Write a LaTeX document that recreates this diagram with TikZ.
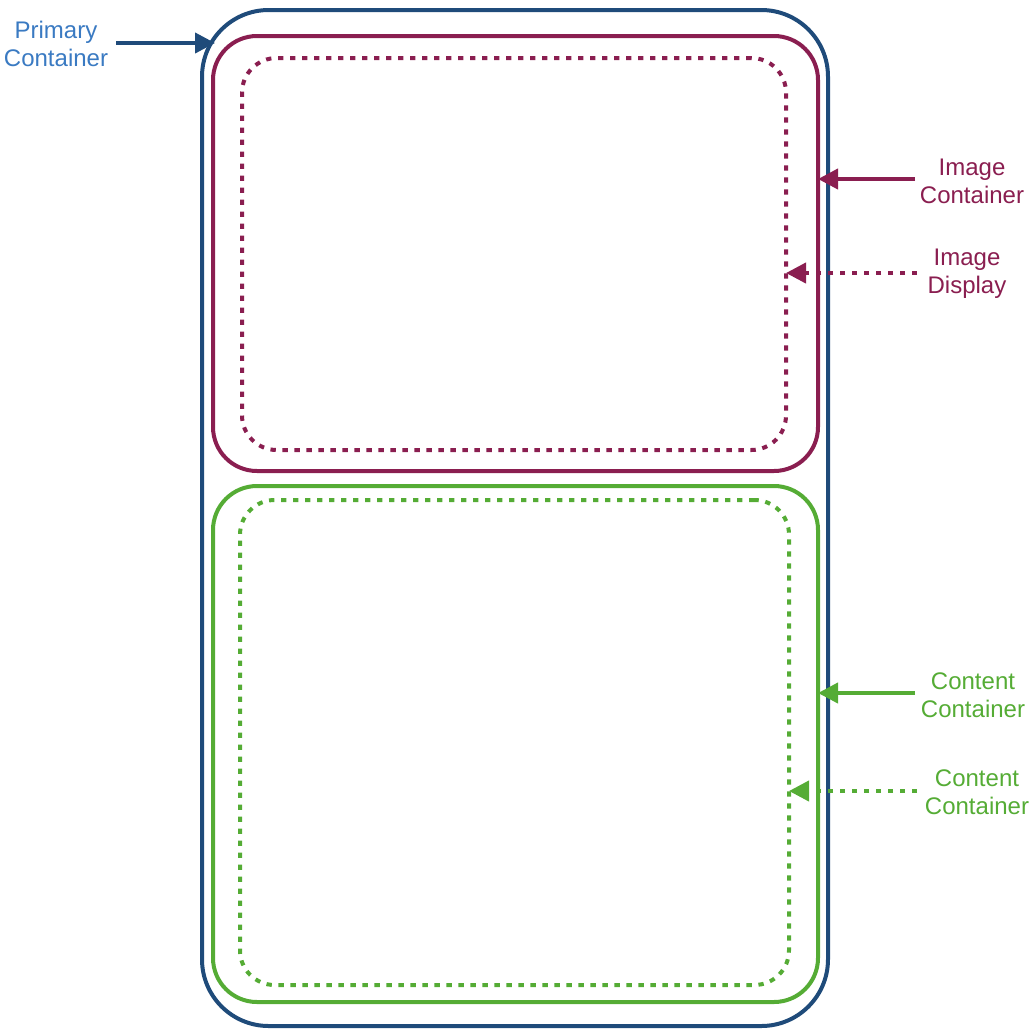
\documentclass[tikz,border=0pt]{standalone}
\usepackage{fontspec}
\setmainfont{Liberation Sans}
\usetikzlibrary{arrows.meta,fit}
\definecolor{pblue}{HTML}{1F4B7A}
\definecolor{ptext}{HTML}{3A7AC2}
\definecolor{maroon}{HTML}{8A1E50}
\definecolor{lgreen}{HTML}{55AC35}
\tikzset{
  box/.style={inner sep=0pt, outer sep=0pt, draw, line width=3pt},
  dotline/.style={line width=3pt, dash pattern=on 4pt off 5pt},
  lbl/.style={font=\fontsize{18}{21}\selectfont, align=center},
  arr/.style={line width=3pt, -{Triangle[length=15pt,width=15pt]}},
}
\begin{document}
\begin{tikzpicture}[x=0.75pt,y=-0.75pt]
\useasboundingbox (0,0) rectangle (1036,1036);
% containers
\node[box, fit={(202,10) (828,1026)}, pblue, rounded corners=50pt] (prim) {};
\node[box, fit={(213,36) (818,471)}, maroon, rounded corners=33pt] (imgc) {};
\node[box, fit={(242,58) (786,450)}, maroon, dotline, rounded corners=26pt] (imgd) {};
\node[box, fit={(213,486) (818,1002)}, lgreen, rounded corners=33pt] (cont) {};
\node[box, fit={(240,500) (789,985)}, lgreen, dotline, rounded corners=26pt] (contd) {};
% labels
\node[lbl, text=ptext] (lprim) at (56,44) {Primary\\Container};
\node[lbl, text=maroon] (limgc) at (972,181) {Image\\Container};
\node[lbl, text=maroon] (limgd) at (967,274) {Image\\Display};
\node[lbl, text=lgreen] (lcont) at (973,695) {Content\\Container};
\node[lbl, text=lgreen] (lcontd) at (977,792) {Content\\Container};
% arrow starts
\coordinate (sprim) at (116,43);
\coordinate (simgc) at (915,179);
\coordinate (simgd) at (917,273);
\coordinate (scont) at (915,693);
\coordinate (scontd) at (917,791);
% arrows
\draw[arr, pblue] (sprim) -- (215,43);
\draw[arr, maroon] (simgc) -- (imgc.east |- simgc);
\draw[arr, maroon, dotline] (simgd) -- (imgd.east |- simgd);
\draw[arr, lgreen] (scont) -- (cont.east |- scont);
\draw[arr, lgreen, dotline] (scontd) -- (contd.east |- scontd);
\end{tikzpicture}
\end{document}
